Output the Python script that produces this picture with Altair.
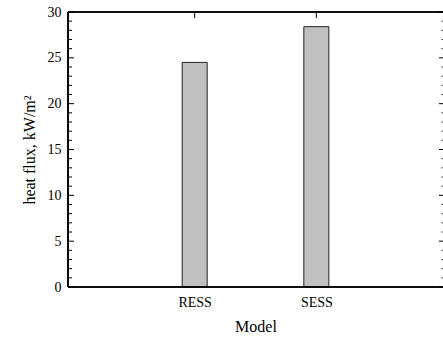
import altair as alt
import pandas as pd

models = ["RESS", "SESS"]
positions = [1, 2]
heat_flux = [24.5, 28.4]
y_major = [0, 5, 10, 15, 20, 25, 30]
y_minor = [v for v in range(0, 31) if v % 5 != 0]

W, H = 375, 275
FONT = "Liberation Serif"

bars_df = pd.DataFrame({"pos": positions, "model": models, "value": heat_flux})
major_df = pd.DataFrame({"y": y_major})
minor_df = pd.DataFrame({"y": y_minor})
xt_df = pd.DataFrame({"pos": positions})

xscale = alt.Scale(domain=[0, 3], nice=False, zero=False)
yscale = alt.Scale(domain=[0, 30], nice=False)

label_expr = "datum.value == 1 ? 'RESS' : datum.value == 2 ? 'SESS' : ''"

bars = alt.Chart(bars_df).mark_bar(size=25, fill="#c0c0c0", stroke="#222222", strokeWidth=1).encode(
    x=alt.X("pos:Q", scale=xscale,
            axis=alt.Axis(values=positions, labelExpr=label_expr, title="Model", ticks=False,
                          domain=False, grid=False, labelPadding=8, titlePadding=9)),
    y=alt.Y("value:Q", scale=yscale,
            axis=alt.Axis(values=y_major, title="heat flux, kW/m²", ticks=False, domain=False,
                          grid=False, labelPadding=7, titlePadding=10)),
)

left_major = alt.Chart(major_df).mark_rule(color="black", strokeWidth=1).encode(
    x=alt.value(0), x2=alt.value(6), y=alt.Y("y:Q", scale=yscale))
left_minor = alt.Chart(minor_df).mark_rule(color="black", strokeWidth=1).encode(
    x=alt.value(0), x2=alt.value(4), y=alt.Y("y:Q", scale=yscale))
right_major = alt.Chart(major_df).mark_rule(color="black", strokeWidth=1).encode(
    x=alt.value(W + 2), x2=alt.value(W - 4), y=alt.Y("y:Q", scale=yscale))
right_minor = alt.Chart(minor_df).mark_rule(color="#666666", strokeWidth=1).encode(
    x=alt.value(W + 2), x2=alt.value(W - 2), y=alt.Y("y:Q", scale=yscale))
top_ticks = alt.Chart(xt_df).mark_rule(color="black", strokeWidth=1).encode(
    x=alt.X("pos:Q", scale=xscale), y=alt.value(0), y2=alt.value(6))
bottom_ticks = alt.Chart(xt_df).mark_rule(color="black", strokeWidth=1).encode(
    x=alt.X("pos:Q", scale=xscale), y=alt.value(H), y2=alt.value(H - 6))

border_left = alt.Chart(xt_df).mark_rule(color="black", strokeWidth=1.6).encode(
    x=alt.value(0), y=alt.value(0), y2=alt.value(H))
border_top = alt.Chart(xt_df).mark_rule(color="black", strokeWidth=1.6).encode(
    x=alt.value(0), x2=alt.value(W + 2), y=alt.value(0))
border_bottom = alt.Chart(xt_df).mark_rule(color="black", strokeWidth=1.6).encode(
    x=alt.value(0), x2=alt.value(W + 2), y=alt.value(H))

chart = alt.layer(bottom_ticks, bars, left_major, left_minor, right_major, right_minor, top_ticks,
                  border_left, border_top, border_bottom).properties(
    width=W, height=H,
    background="white",
    autosize=alt.AutoSizeParams(type="none"),
    padding={"left": 68, "top": 12, "right": 0, "bottom": 53},
).configure_view(stroke=None, strokeWidth=0).configure_axis(
    labelFont=FONT, titleFont=FONT, labelFontSize=14, titleFontSize=16,
    labelColor="black", titleColor="black", titleFontWeight="normal",
)

chart.save("out.html", embed_options={"renderer": "svg", "actions": False})
